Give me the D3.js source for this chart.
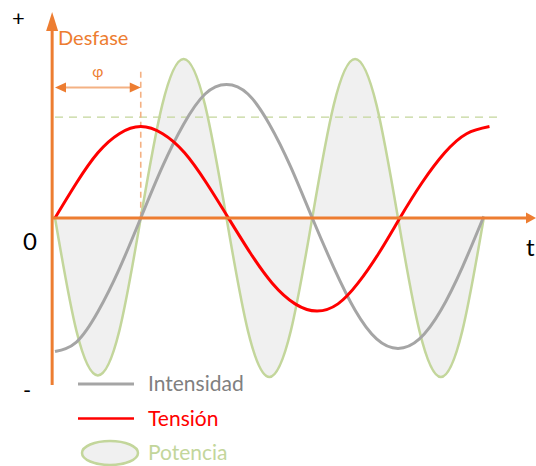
<!DOCTYPE html>
<html>
<head>
<meta charset="utf-8">
<script src="https://cdn.jsdelivr.net/npm/d3@7"></script>
<style>
  body { margin: 0; background: #fff; }
  svg text { font-family: Lato, "Open Sans", sans-serif; }
</style>
</head>
<body>
<div id="chart"></div>
<script>
// phase angle in degrees, values relative to the power peak
const potenciaT = [0, 22.5, 45, 67.5, 90, 112.5, 135, 157.5, 180, 202.5, 225, 247.5, 270, 292.5, 315, 337.5, 360, 382.5, 405, 427.5, 450];
const potenciaV = [0, -0.71, -0.99, -0.71, 0, 0.71, 1, 0.71, 0, -0.71, -1, -0.71, 0, 0.71, 1, 0.71, 0, -0.71, -1, -0.71, 0];

const intensidadT = [0, 22.5, 45, 67.5, 90, 112.5, 135, 157.5, 180, 202.5, 225, 247.5, 270, 292.5, 315, 337.5, 360, 382.5, 405, 427.5, 450];
const intensidadV = [-0.84, -0.78, -0.59, -0.32, 0, 0.32, 0.59, 0.78, 0.84, 0.78, 0.59, 0.32, 0, -0.31, -0.58, -0.76, -0.82, -0.76, -0.58, -0.31, 0.01];

const tensionT = [0, 22.5, 45, 67.5, 90, 113, 136, 159, 182, 205, 228, 252, 275, 297, 318, 340, 362, 385, 409, 432, 456];
const tensionV = [0, 0.22, 0.41, 0.53, 0.575, 0.53, 0.41, 0.22, 0, -0.22, -0.41, -0.54, -0.585, -0.54, -0.41, -0.22, 0, 0.22, 0.41, 0.53, 0.575];

const desfase = 90;          // phi
const nivelRef = 0.635;      // dashed reference level
const legendLabels = ["Intensidad", "Tensión", "Potencia"];

const width = 536, height = 466;
const orange = "#ed7d31", lightOrange = "#f4b183";
const green = "#c3d69b", fillGray = "#f0f0f0";
const gray = "#a5a5a5", red = "#ff0000";

const svg = d3.select("#chart").append("svg")
    .attr("width", width)
    .attr("height", height);

const x = d3.scaleLinear().domain([0, 360]).range([55, 398]);
const y = d3.scaleLinear().domain([-1, 1]).range([377, 59]);

const zip = (ts, vs) => ts.map((t, i) => ({t: t, v: vs[i]}));

const line = d3.line()
    .x(d => x(d.t))
    .y(d => y(d.v))
    .curve(d3.curveNatural);

const area = d3.area()
    .x(d => x(d.t))
    .y0(y(0))
    .y1(d => y(d.v))
    .curve(d3.curveNatural);

// power (filled)
const potencia = zip(potenciaT, potenciaV);
svg.append("path")
    .attr("d", area(potencia))
    .attr("fill", fillGray);
svg.append("path")
    .attr("d", line(potencia))
    .attr("fill", "none")
    .attr("stroke", green)
    .attr("stroke-width", 2.5);

// dashed reference level
svg.append("line")
    .attr("x1", x(0)).attr("x2", x(468))
    .attr("y1", y(nivelRef)).attr("y2", y(nivelRef))
    .attr("stroke", green)
    .attr("stroke-width", 1.3)
    .attr("stroke-dasharray", "8,6");

// dashed phase marker
svg.append("line")
    .attr("x1", x(desfase)).attr("x2", x(desfase))
    .attr("y1", y(0.92)).attr("y2", y(0))
    .attr("stroke", lightOrange)
    .attr("stroke-width", 1.6)
    .attr("stroke-dasharray", "6,4");

// intensity
svg.append("path")
    .attr("d", line(zip(intensidadT, intensidadV)))
    .attr("fill", "none")
    .attr("stroke", gray)
    .attr("stroke-width", 3);

// tension
svg.append("path")
    .attr("d", line(zip(tensionT, tensionV)))
    .attr("fill", "none")
    .attr("stroke", red)
    .attr("stroke-width", 3);

// axes
const axisX = x(-3);
svg.append("line")
    .attr("x1", axisX).attr("x2", 528)
    .attr("y1", y(0)).attr("y2", y(0))
    .attr("stroke", orange).attr("stroke-width", 3);
svg.append("path")
    .attr("d", `M536,${y(0)} L526,${y(0) - 5.5} L526,${y(0) + 5.5} Z`)
    .attr("fill", orange);

svg.append("line")
    .attr("x1", axisX).attr("x2", axisX)
    .attr("y1", y(-1.05)).attr("y2", 26)
    .attr("stroke", orange).attr("stroke-width", 3);
svg.append("path")
    .attr("d", `M${axisX},12 L${axisX - 6},31 L${axisX + 6},31 Z`)
    .attr("fill", orange);

// phase arrow
const arrowY = y(0.82);
svg.append("line")
    .attr("x1", x(0) + 6).attr("x2", x(desfase) - 8)
    .attr("y1", arrowY).attr("y2", arrowY)
    .attr("stroke", lightOrange).attr("stroke-width", 2);
svg.append("path")
    .attr("d", `M${x(0)},${arrowY} L${x(0) + 11},${arrowY - 5} L${x(0) + 11},${arrowY + 5} Z`)
    .attr("fill", orange);
svg.append("path")
    .attr("d", `M${x(desfase)},${arrowY} L${x(desfase) - 11},${arrowY - 5} L${x(desfase) - 11},${arrowY + 5} Z`)
    .attr("fill", orange);
svg.append("text")
    .attr("x", (x(0) + x(desfase)) / 2)
    .attr("y", arrowY - 11)
    .attr("text-anchor", "middle")
    .attr("fill", orange)
    .attr("font-size", 15)
    .text("φ");

svg.append("text")
    .attr("x", 58).attr("y", 45)
    .attr("fill", orange)
    .attr("font-size", 20)
    .text("Desfase");

// axis marks
svg.append("text").attr("x", 12).attr("y", 26).attr("font-size", 22).text("+");
svg.append("text").attr("x", 23).attr("y", 250).attr("font-size", 24).text("0");
svg.append("text").attr("x", 23).attr("y", 398).attr("font-size", 22).text("-");
svg.append("text").attr("x", 526).attr("y", 256).attr("font-size", 24).text("t");

// legend
const legend = svg.append("g");
const legendY = d3.scalePoint().domain(legendLabels).range([384, 453]);
const legendColor = d3.scaleOrdinal().domain(legendLabels).range(["#808080", red, green]);

legend.append("line")
    .attr("x1", 78).attr("x2", 134)
    .attr("y1", legendY("Intensidad")).attr("y2", legendY("Intensidad"))
    .attr("stroke", gray).attr("stroke-width", 3);
legend.append("line")
    .attr("x1", 78).attr("x2", 134)
    .attr("y1", legendY("Tensión")).attr("y2", legendY("Tensión"))
    .attr("stroke", red).attr("stroke-width", 2.5);
legend.append("ellipse")
    .attr("cx", 110).attr("cy", legendY("Potencia"))
    .attr("rx", 28).attr("ry", 12)
    .attr("fill", fillGray)
    .attr("stroke", green).attr("stroke-width", 2.5);

legend.selectAll("text.lbl")
    .data(legendLabels)
    .enter()
    .append("text")
    .attr("class", "lbl")
    .attr("x", 148)
    .attr("y", d => legendY(d) + 7)
    .attr("font-size", 21)
    .attr("fill", d => legendColor(d))
    .text(d => d);
</script>
</body>
</html>
